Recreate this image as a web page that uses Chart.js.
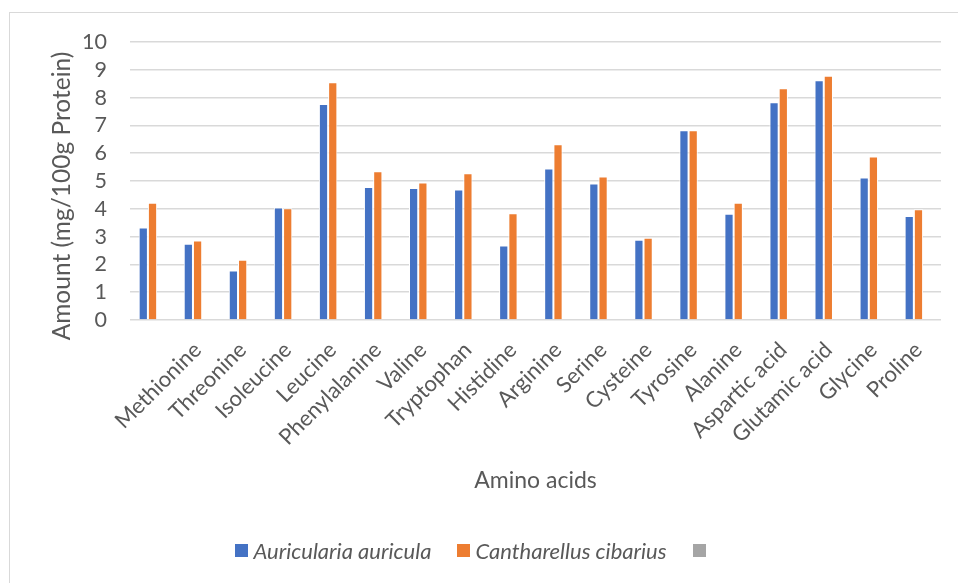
<!DOCTYPE html>
<html>
<head>
<meta charset="utf-8">
<script src="https://cdn.jsdelivr.net/npm/chart.js@4.4.1/dist/chart.umd.min.js"></script>
<style>
  html, body { margin: 0; padding: 0; background: #ffffff; }
  #wrap { position: relative; width: 958px; height: 583px; overflow: hidden; }
  #frame { position: absolute; left: 9px; top: 12px; width: 1000px; height: 700px;
           border: 1.5px solid #d9d9d9; box-sizing: border-box; }
  canvas { position: absolute; left: 0; top: 0; }
  #legend { position: absolute; left: 0; width: 946px; top: 536px; height: 28px;
            display: flex; justify-content: center; align-items: center;
            font-family: Lato, "Open Sans", sans-serif; font-size: 22px; font-style: italic;
            color: #595959; }
  #legend .item { display: flex; align-items: center; margin: 0 13px; }
  #legend .swatch { width: 13px; height: 13px; margin-right: 5px; }
</style>
</head>
<body>
<div id="wrap">
  <div id="frame"></div>
  <canvas id="chart" width="958" height="583"></canvas>
  <div id="legend"></div>
</div>
<script>
// Amino acid content of two edible mushrooms (mg/100g protein)
const categories = ["", "Methionine", "Threonine", "Isoleucine", "Leucine", "Phenylalanine",
  "Valine", "Tryptophan", "Histidine", "Arginine", "Serine", "Cysteine", "Tyrosine",
  "Alanine", "Aspartic acid", "Glutamic acid", "Glycine", "Proline"];
const auricularia = [3.33, 2.74, 1.78, 4.05, 7.77, 4.78, 4.75, 4.69, 2.68, 5.45,
  4.91, 2.89, 6.83, 3.82, 7.83, 8.62, 5.13, 3.74];
const cantharellus = [4.22, 2.86, 2.17, 4.02, 8.55, 5.35, 4.95, 5.28, 3.84, 6.32,
  5.16, 2.96, 6.83, 4.22, 8.34, 8.79, 5.88, 3.98];
const emptySeries = categories.map(() => null);
const seriesNames = ["Auricularia auricula", "Cantharellus cibarius", ""];
const yTicks = [0, 1, 2, 3, 4, 5, 6, 7, 8, 9, 10];

const TEXT = '#595959';
const FONT = 'Lato, "Open Sans", sans-serif';

// vertical axis title, centred a little below the middle of the plot
const yTitlePlugin = {
  id: 'yTitle',
  afterDraw(chart) {
    const { ctx, chartArea } = chart;
    ctx.save();
    ctx.fillStyle = TEXT;
    ctx.font = '24.5px ' + FONT;
    ctx.textAlign = 'center';
    ctx.textBaseline = 'middle';
    ctx.translate(chartArea.left - 68, (chartArea.top + chartArea.bottom) / 2 + 15);
    ctx.rotate(-Math.PI / 2);
    ctx.fillText('Amount (mg/100g Protein)', 0, 0);
    ctx.restore();
  }
};

const chart = new Chart(document.getElementById('chart'), {
  type: 'bar',
  data: {
    labels: categories,
    datasets: [
      { label: seriesNames[0], data: auricularia, backgroundColor: '#4472C4' },
      { label: seriesNames[1], data: cantharellus, backgroundColor: '#ED7D31' },
      { label: seriesNames[2], data: emptySeries, backgroundColor: '#A5A5A5' }
    ]
  },
  options: {
    responsive: false,
    animation: false,
    devicePixelRatio: 1,
    layout: { padding: { left: 0, right: 17, top: 42, bottom: 68 } },
    datasets: {
      bar: {
        categoryPercentage: 0.615,
        barPercentage: 1.0,
        borderColor: '#ffffff',
        borderWidth: 1
      }
    },
    scales: {
      x: {
        grid: { display: false },
        border: { display: false },
        ticks: {
          color: TEXT,
          font: { family: FONT, size: 22 },
          maxRotation: 45,
          minRotation: 45,
          autoSkip: false,
          padding: 9
        },
        title: {
          display: true,
          text: 'Amino acids',
          color: TEXT,
          font: { family: FONT, size: 23 },
          padding: { top: 0, bottom: 21 }
        },
        afterFit(scale) { scale.height = 195; }
      },
      y: {
        min: 0,
        max: 10,
        afterBuildTicks(scale) { scale.ticks = yTicks.map(v => ({ value: v })); },
        grid: { color: '#d9d9d9', lineWidth: 1.5, drawTicks: false },
        border: { display: false },
        ticks: {
          color: TEXT,
          font: { family: FONT, size: 21.5 },
          padding: 23,
          autoSkip: false
        },
        afterFit(scale) { scale.width = 130; }
      }
    },
    plugins: {
      legend: { display: false },
      tooltip: { enabled: false }
    }
  },
  plugins: [yTitlePlugin]
});

// legend built from the chart's own datasets
const legendEl = document.getElementById('legend');
chart.data.datasets.forEach(ds => {
  const item = document.createElement('div');
  item.className = 'item';
  const sw = document.createElement('span');
  sw.className = 'swatch';
  sw.style.background = ds.backgroundColor;
  const label = document.createElement('span');
  label.textContent = ds.label;
  item.appendChild(sw);
  item.appendChild(label);
  legendEl.appendChild(item);
});
</script>
</body>
</html>
